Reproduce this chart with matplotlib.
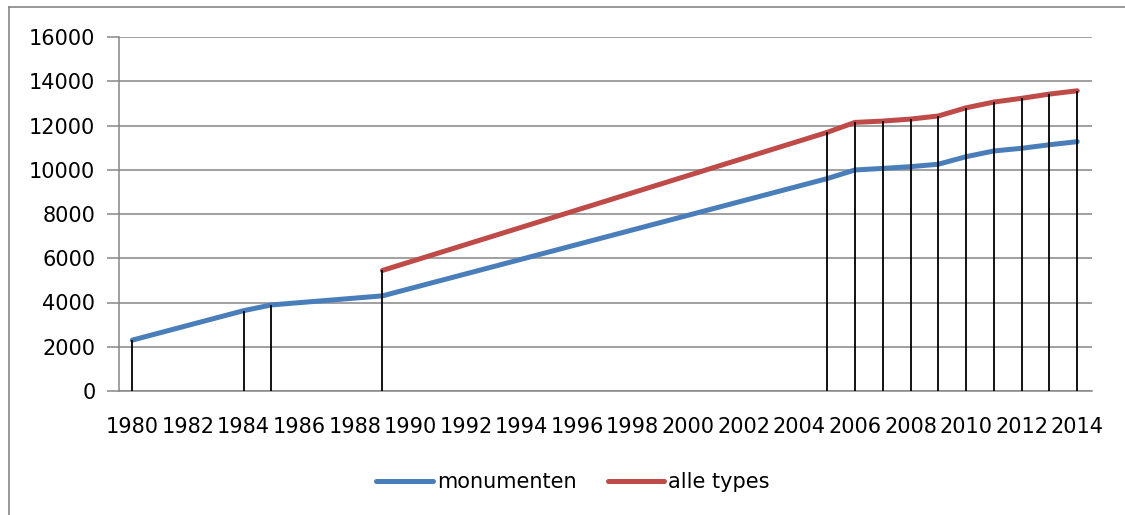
import matplotlib

matplotlib.use("Agg")
import matplotlib.pyplot as plt
from matplotlib.lines import Line2D

# monumenten: every year that has a value
years_monumenten = [1980, 1984, 1985, 1989, 2005, 2006, 2007, 2008, 2009,
                    2010, 2011, 2012, 2013, 2014]
monumenten = [2300, 3630, 3890, 4300, 9600, 9990, 10060, 10140, 10250,
              10590, 10850, 10970, 11130, 11270]

# alle types: starts in 1989
years_alle = [1989, 2005, 2006, 2007, 2008, 2009, 2010, 2011, 2012, 2013, 2014]
alle_types = [5450, 11690, 12140, 12200, 12290, 12430, 12800, 13060, 13230,
              13420, 13570]

x_ticks = list(range(1980, 2015, 2))
y_ticks = list(range(0, 16001, 2000))

BLUE = "#4a7ebb"
RED = "#be4b48"
GRID = "#868686"

plt.rcParams["font.family"] = ["DejaVu Sans"]

fig = plt.figure(figsize=(11.25, 5.15), dpi=100)
ax = fig.add_axes([119 / 1125, 124 / 515, (1092 - 119) / 1125, (391 - 37) / 515])

ax.plot(years_monumenten, monumenten, color=BLUE, lw=3.6,
        solid_capstyle="round", label="monumenten", zorder=3)
ax.plot(years_alle, alle_types, color=RED, lw=3.6,
        solid_capstyle="round", label="alle types", zorder=3)

# drop lines from the highest value of each year down to the axis
alle_lookup = dict(zip(years_alle, alle_types))
tops = [max(v, alle_lookup.get(y, v)) for y, v in zip(years_monumenten, monumenten)]
ax.vlines(years_monumenten, 0, tops, color="black", lw=1.3, zorder=4)

ax.set_xlim(1979.52, 2014.53)
ax.set_ylim(0, 16000)
ax.set_xticks(x_ticks)
ax.set_yticks(y_ticks)
ax.tick_params(axis="x", length=0, labelsize=15, pad=19)
ax.tick_params(axis="y", length=9, width=1.1, color=GRID, labelsize=15, pad=8)
ax.yaxis.grid(True, color=GRID, lw=1.1)
ax.set_axisbelow(True)
for side in ("top", "right"):
    ax.spines[side].set_visible(False)
for side in ("left", "bottom"):
    ax.spines[side].set_color(GRID)
    ax.spines[side].set_linewidth(1.1)

ax.legend(loc="center", bbox_to_anchor=(573 / 1125, 33 / 515),
          bbox_transform=fig.transFigure, ncol=2, frameon=False, fontsize=15,
          handlelength=2.7, handletextpad=0.2, columnspacing=1.5)

# outer chart frame (top and left edges are visible in the picture)
fig.add_artist(Line2D([8.5 / 1125, 1], [1 - 6.5 / 515, 1 - 6.5 / 515],
                      transform=fig.transFigure, color=GRID, lw=1.2))
fig.add_artist(Line2D([8.5 / 1125, 8.5 / 1125], [0, 1 - 6.5 / 515],
                      transform=fig.transFigure, color=GRID, lw=1.2))

fig.savefig("out.png", dpi=100)
plt.close(fig)
